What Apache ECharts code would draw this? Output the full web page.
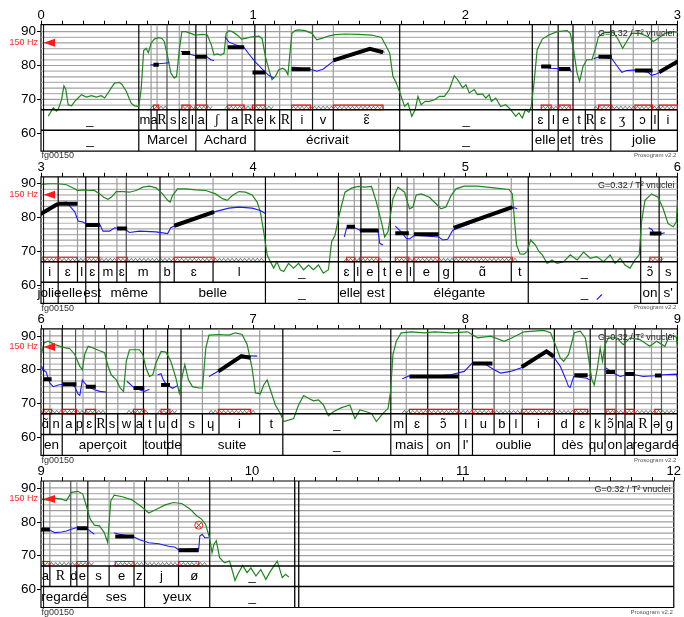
<!DOCTYPE html>
<html><head><meta charset="utf-8">
<script src="https://cdn.jsdelivr.net/npm/echarts@6/dist/echarts.min.js"></script>
<style>html,body{margin:0;padding:0;background:#fff}#c{width:684px;height:617px}</style>
</head><body><div id="c"></div>
<script>
// ---------------- DATA ----------------
const stripSeconds = 3;
const stripStarts = [0, 3, 6, 9];
const yTickValues = [60, 70, 80, 90];
const gridSemitones = [90, 88.33, 86.67, 85, 83.33, 81.67, 80, 78.33, 76.67, 75, 73.33, 71.67, 70, 68.33];
const refPitch150Hz = 86.74;
const yRange = [54.7, 92.05];
const tier1Top = 66.97, tier2Top = 60.9;

const phones = [
[0,0.461,'_'],[0.461,0.519,'m'],[0.519,0.547,'a'],[0.547,0.594,'R'],[0.594,0.652,'s'],[0.652,0.698,'ɛ'],[0.698,0.730,'l'],
[0.730,0.780,'a'],[0.780,0.878,'ʃ'],[0.878,0.948,'a'],[0.948,1.008,'R'],[1.008,1.058,'e'],[1.058,1.125,'k'],[1.125,1.180,'R'],
[1.180,1.280,'i'],[1.280,1.378,'v'],[1.378,1.691,'ɛ̃'],[1.691,2.316,'_'],[2.316,2.394,'ɛ'],[2.394,2.438,'l'],[2.438,2.508,'e'],
[2.508,2.566,'t'],[2.566,2.612,'R'],[2.612,2.686,'ɛ'],[2.686,2.792,'ʒ'],[2.792,2.878,'ɔ'],[2.878,2.910,'l'],[2.910,3.081,'i'],
[3.081,3.172,'ɛ'],[3.172,3.211,'l'],[3.211,3.272,'ɛ'],[3.272,3.358,'m'],[3.358,3.402,'ɛ'],[3.402,3.561,'m'],[3.561,3.628,'b'],
[3.628,3.811,'ɛ'],[3.811,4.058,'l'],[4.058,4.402,'_'],[4.402,4.477,'ɛ'],[4.477,4.508,'l'],[4.508,4.592,'e'],[4.592,4.647,'t'],
[4.647,4.726,'e'],[4.726,4.758,'l'],[4.758,4.875,'e'],[4.875,4.945,'g'],[4.945,5.217,'ɑ̃'],[5.217,5.297,'t'],[5.297,5.827,'_'],
[5.827,5.914,'ɔ̃'],[5.914,6.000,'s'],[6.000,6.042,'ɑ̃'],[6.042,6.100,'n'],[6.100,6.163,'a'],[6.163,6.198,'p'],[6.198,6.256,'ɛ'],
[6.256,6.308,'R'],[6.308,6.362,'s'],[6.362,6.444,'w'],[6.444,6.483,'a'],[6.483,6.542,'t'],[6.542,6.597,'u'],[6.597,6.660,'d'],
[6.660,6.761,'s'],[6.761,6.839,'ɥ'],[6.839,7.031,'i'],[7.031,7.140,'t'],[7.140,7.649,'_'],[7.649,7.722,'m'],[7.722,7.823,'ɛ'],
[7.823,7.969,'ɔ̃'],[7.969,8.034,'l'],[8.034,8.136,'u'],[8.136,8.209,'b'],[8.209,8.269,'l'],[8.269,8.420,'i'],[8.420,8.511,'d'],
[8.511,8.589,'ɛ'],[8.589,8.659,'k'],[8.659,8.711,'ɔ̃'],[8.711,8.753,'n'],[8.753,8.797,'a'],[8.797,8.878,'R'],[8.878,8.925,'ə'],
[8.925,9.000,'g'],[9.000,9.042,'a'],[9.042,9.141,'R'],[9.141,9.170,'d'],[9.170,9.222,'e'],[9.222,9.323,'s'],[9.323,9.441,'e'],
[9.441,9.491,'z'],[9.491,9.652,'j'],[9.652,9.800,'ø'],[9.800,10.203,'_']
];

const words = [
[0,0.461,'_'],[0.461,0.730,'Marcel'],[0.730,1.008,'Achard'],[1.008,1.691,'écrivait'],[1.691,2.316,'_'],[2.316,2.438,'elle'],
[2.438,2.508,'et'],[2.508,2.686,'très'],[2.686,3.081,'jolie'],[3.081,3.211,'elle'],[3.211,3.272,'est'],[3.272,3.561,'même'],
[3.561,4.058,'belle'],[4.058,4.402,'_'],[4.402,4.508,'elle'],[4.508,4.647,'est'],[4.647,5.297,'élégante'],[5.297,5.827,'_'],
[5.827,5.914,'on'],[5.914,6.000,"s'"],[6.000,6.100,'en'],[6.100,6.483,'aperçoit'],[6.483,6.597,'tout'],[6.597,6.660,'de'],
[6.660,7.140,'suite'],[7.140,7.649,'_'],[7.649,7.823,'mais'],[7.823,7.969,'on'],[7.969,8.034,"l'"],[8.034,8.420,'oublie'],
[8.420,8.589,'dès'],[8.589,8.659,"qu'"],[8.659,8.753,'on'],[8.753,8.797,'a'],[8.797,9.222,'regardé'],[9.222,9.491,'ses'],
[9.491,9.800,'yeux'],[9.800,10.203,'_']
];

const syllableStarts = [0.594,0.780,1.058,1.280,2.878,3.402,4.726,4.875,6.163,6.308,8.136,8.711,8.925,9.141];
const signalEndMarks = [10.203, 10.222];

const nuclei = [
[[0.530,80.2],[0.555,80.2]],[[0.664,83.7],[0.703,83.7]],[[0.727,82.6],[0.783,82.6]],[[0.880,85.4],[0.958,85.4]],
[[0.997,77.9],[1.058,77.9]],[[1.181,78.9],[1.270,78.9]],[[1.378,81.5],[1.550,84.9],[1.6125,83.9]],
[[2.358,79.7],[2.405,79.7]],[[2.441,79.0],[2.495,79.0]],[[2.628,82.6],[2.691,82.6]],[[2.800,78.5],[2.883,78.5]],
[[2.914,78.0],[3.081,84.1]],[[3.081,84.1],[3.172,84.1]],[[3.211,77.8],[3.277,77.8]],[[3.358,76.8],[3.406,76.8]],
[[3.628,77.6],[3.816,81.7]],[[4.441,77.3],[4.480,77.3]],[[4.503,76.2],[4.592,76.2]],[[4.670,75.4],[4.734,75.4]],
[[4.758,75.1],[4.875,75.1]],[[4.945,77.0],[5.222,83.1]],[[5.870,75.3],[5.925,75.3]],
[[6.011,77.2],[6.050,77.2]],[[6.102,75.7],[6.167,75.7]],[[6.211,75.0],[6.258,75.0]],[[6.436,74.6],[6.487,74.6]],
[[6.566,75.5],[6.608,75.5]],[[6.836,79.5],[6.945,84.0],[6.988,83.5]],[[7.737,78.0],[7.823,78.0]],[[7.823,78.0],[7.967,78.0]],
[[8.034,81.8],[8.128,81.8]],[[8.266,80.8],[8.383,85.4],[8.417,83.9]],[[8.514,78.4],[8.577,78.4]],[[8.664,79.3],[8.706,79.3]],
[[8.753,78.7],[8.797,78.7]],[[8.894,78.3],[8.925,78.3]],[[9.0,77.7],[9.042,77.7]],[[9.170,78.1],[9.222,78.1]],
[[9.352,75.7],[9.441,75.7]],[[9.652,71.6],[9.748,71.6]]
];

const pitchSegments = [
[[0.516,80.2],[0.541,80.2],[0.555,80.5],[0.605,80.8]],
[[0.659,84.2],[0.711,83.2],[0.730,82.8],[0.784,82.5],[0.800,81.7],[0.816,81.5]],
[[0.867,88.5],[0.886,86.9],[0.917,86.1],[0.956,85.4],[0.980,83.4],[1.011,81.0],[1.042,79.0],[1.073,77.1],[1.097,76.3]],
[[1.181,79.5],[1.195,79.5],[1.284,78.7],[1.300,78.3],[1.331,79.0],[1.378,81.3],[1.45,83.2],[1.55,84.9],[1.62,83.9]],
[[2.358,79.7],[2.405,79.2],[2.495,78.8],[2.500,78.0]],
[[2.605,82.0],[2.628,82.5],[2.691,82.0],[2.714,80.0],[2.738,78.0],[2.761,78.5],[2.800,78.7],[2.862,78.0],[2.878,77.1],
 [2.901,77.5],[2.917,78.0],[3.0,80.8],[3.081,84.3],[3.120,84.6],[3.159,81.7],[3.175,79.0],[3.198,78.7],[3.211,78.2],
 [3.277,78.0],[3.292,76.0],[3.323,76.0],[3.347,77.0],[3.370,76.8],[3.394,76.6],[3.417,75.6],[3.464,76.0],[3.542,75.8],
 [3.597,75.3],[3.612,77.0],[3.628,77.5],[3.816,81.7],[3.886,82.8],[3.933,83.1],[3.995,82.8],[4.034,82.1],[4.058,81.2]],
[[4.430,74.3],[4.441,77.0],[4.480,77.0],[4.503,76.3],[4.589,76.0],[4.597,72.4],[4.612,71.9]],
[[4.670,77.5],[4.698,75.8],[4.722,73.9],[4.737,73.7],[4.761,74.8],[4.875,74.3],[4.894,73.4],[4.917,73.6],[4.941,76.3],
 [5.222,83.1],[5.245,82.6]],
[[5.620,55.8],[5.644,57.3]],
[[5.865,77.0],[5.880,76.5],[5.890,75.3],[5.925,75.3],[5.940,75.5]],
[[6.005,81.0],[6.008,79.9],[6.023,79.5],[6.031,78.0],[6.042,76.0],[6.058,75.0],[6.081,75.5],[6.105,75.7],[6.136,75.7],
 [6.159,75.0],[6.175,72.8],[6.183,72.4],[6.195,77.0],[6.206,76.0],[6.222,75.0],[6.253,74.1],[6.277,73.6],[6.308,73.4]],
[[6.405,76.6],[6.433,75.0],[6.464,74.1],[6.488,73.6],[6.511,74.2]],
[[6.550,78.5],[6.566,78.8],[6.573,77.5],[6.589,75.7],[6.620,74.5],[6.644,75.3]],
[[6.792,78.0],[6.839,79.7],[6.902,82.5],[6.948,84.2],[7.019,84.0]],
[[7.703,77.3],[7.737,78.2],[7.792,78.0],[7.870,78.2],[7.933,78.5],[7.995,79.5],[8.034,82.0],[8.089,81.8],[8.136,80.0],
 [8.167,79.0],[8.214,79.5],[8.261,80.5],[8.308,82.2],[8.378,85.5],[8.417,83.7],[8.448,81.0],[8.472,77.5],[8.487,75.0],
 [8.495,74.8],[8.511,78.0],[8.573,77.5],[8.586,77.0]],
[[8.664,80.5],[8.698,79.0],[8.730,78.0],[8.761,78.5],[8.800,78.5],[8.839,78.0],[8.894,78.2],[8.933,78.5],[8.995,78.7],
 [9.0,77.7],[9.042,77.5],[9.066,76.8],[9.097,77.0],[9.120,77.3],[9.144,77.8],[9.170,78.3],[9.222,77.8],[9.253,76.3]],
[[9.347,76.8],[9.362,76.5],[9.441,75.5],[9.464,74.8],[9.511,73.8],[9.558,73.5],[9.605,72.8],[9.636,72.5],[9.652,71.8],
 [9.748,72.1],[9.753,75.8],[9.764,76.3],[9.777,75.3],[9.795,75.3]]
];

const uncertainMarks = [[9.748, 79.0]];

const intensity = [
[0.034,65.0],[0.058,67.5],[0.073,66.5],[0.081,67.0],[0.097,69.9],[0.108,74.0],[0.117,72.9],[0.128,68.4],[0.144,68.1],[0.159,69.4],
[0.175,70.4],[0.191,71.4],[0.214,70.7],[0.238,71.1],[0.261,70.7],[0.284,71.1],[0.300,70.4],[0.316,71.9],[0.331,73.4],[0.347,74.8],
[0.370,75.0],[0.383,74.3],[0.402,72.4],[0.425,68.9],[0.441,68.1],[0.461,67.9],[0.472,72.9],[0.484,84.4],[0.495,85.1],[0.506,83.8],
[0.519,86.6],[0.534,87.8],[0.555,88.2],[0.570,88.0],[0.581,87.1],[0.597,82.6],[0.612,77.8],[0.628,76.3],[0.639,76.8],[0.652,84.6],
[0.664,90.0],[0.683,90.0],[0.706,89.5],[0.727,89.0],[0.761,89.2],[0.784,89.0],[0.803,86.1],[0.816,83.1],[0.831,83.4],[0.847,83.1],
[0.863,83.6],[0.873,89.5],[0.886,90.3],[0.902,90.0],[0.925,89.0],[0.945,87.8],[0.964,88.0],[0.995,88.5],[1.027,88.7],[1.042,88.0],
[1.058,82.6],[1.077,78.2],[1.089,75.8],[1.105,76.8],[1.120,78.7],[1.139,79.2],[1.152,78.7],[1.164,77.3],[1.175,84.6],[1.183,89.5],
[1.198,90.3],[1.214,90.5],[1.245,90.3],[1.277,89.5],[1.300,87.6],[1.323,88.0],[1.355,88.7],[1.386,89.1],[1.433,89.3],[1.495,89.2],
[1.558,89.0],[1.605,88.3],[1.628,85.6],[1.644,83.6],[1.659,76.8],[1.675,74.8],[1.698,70.9],[1.714,67.9],[1.730,68.9],[1.748,65.0],
[1.764,67.0],[1.777,70.9],[1.792,68.4],[1.811,69.4],[1.831,69.4],[1.855,69.9],[1.878,70.9],[1.902,70.9],[1.925,72.9],[1.948,77.0],
[1.964,75.8],[1.988,73.4],[2.003,74.3],[2.019,71.9],[2.042,72.9],[2.058,71.4],[2.081,71.6],[2.097,70.4],[2.113,71.4],[2.123,69.4],
[2.144,70.4],[2.167,67.9],[2.191,68.4],[2.214,67.0],[2.238,65.0],[2.253,66.0],[2.269,64.5],[2.284,67.0],[2.300,66.2],[2.311,67.9],
[2.324,74.8],[2.339,84.6],[2.363,87.8],[2.394,89.0],[2.433,90.0],[2.480,90.3],[2.495,89.5],[2.511,84.6],[2.527,77.8],[2.539,75.3],
[2.555,79.7],[2.573,81.7],[2.597,81.7],[2.612,84.6],[2.628,88.5],[2.652,89.7],[2.698,89.7],[2.722,87.6],[2.742,85.1],[2.761,87.1],
[2.784,89.5],[2.823,89.5],[2.862,88.5],[2.886,87.1],[2.909,88.0],[2.941,89.5],[2.980,90.0],[3.0,89.8],
[3.042,90.0],[3.081,90.0],[3.120,89.7],[3.159,88.5],[3.172,88.0],[3.195,88.2],[3.227,88.0],[3.250,88.1],[3.277,87.0],[3.295,86.0],
[3.316,85.4],[3.331,86.0],[3.355,87.7],[3.386,87.7],[3.417,87.5],[3.448,88.0],[3.480,89.0],[3.511,89.3],[3.542,88.8],[3.573,87.0],
[3.597,85.1],[3.609,84.6],[3.620,86.5],[3.644,88.5],[3.683,88.5],[3.730,88.2],[3.777,88.0],[3.823,87.0],[3.855,85.6],[3.878,85.1],
[3.902,86.5],[3.933,87.7],[3.964,87.5],[3.995,86.7],[4.019,84.6],[4.034,81.7],[4.050,75.8],[4.066,69.0],[4.081,67.0],[4.097,65.1],
[4.112,67.0],[4.128,64.6],[4.144,64.1],[4.167,66.5],[4.191,65.1],[4.214,66.5],[4.238,64.6],[4.261,66.0],[4.284,64.6],[4.308,66.0],
[4.331,63.6],[4.355,64.6],[4.370,72.9],[4.386,74.8],[4.402,79.7],[4.417,83.6],[4.433,87.5],[4.464,88.7],[4.495,89.2],[4.527,89.0],
[4.558,89.2],[4.581,84.6],[4.605,78.7],[4.620,74.3],[4.636,75.8],[4.659,85.6],[4.683,89.0],[4.714,87.5],[4.737,82.6],[4.753,83.1],
[4.769,86.7],[4.792,87.0],[4.831,86.0],[4.862,84.1],[4.886,82.6],[4.909,83.1],[4.933,86.5],[4.956,88.5],[4.995,89.3],[5.058,89.3],
[5.136,88.8],[5.206,88.3],[5.222,87.0],[5.230,80.7],[5.242,71.9],[5.258,69.3],[5.277,69.2],[5.292,70.0],[5.308,73.4],[5.331,71.9],
[5.347,70.0],[5.363,69.0],[5.386,66.5],[5.409,67.5],[5.433,66.5],[5.464,67.0],[5.495,69.0],[5.527,67.5],[5.558,69.8],[5.589,68.0],
[5.620,68.5],[5.652,67.0],[5.683,69.0],[5.706,66.5],[5.730,68.0],[5.753,66.0],[5.777,65.1],[5.800,67.5],[5.820,69.0],[5.831,78.7],
[5.847,85.1],[5.878,87.0],[5.909,86.0],[5.933,82.6],[5.956,78.2],[5.980,77.3],[5.995,78.7],
[6.0,84.0],[6.014,87.9],[6.034,88.4],[6.066,87.4],[6.105,86.6],[6.136,86.2],[6.159,84.5],[6.183,81.0],[6.195,80.0],[6.206,84.5],
[6.222,86.9],[6.245,86.4],[6.277,85.6],[6.300,85.0],[6.316,81.0],[6.331,78.5],[6.355,77.0],[6.373,74.6],[6.389,73.6],[6.402,82.5],
[6.417,85.9],[6.464,85.9],[6.480,84.5],[6.495,80.5],[6.511,78.0],[6.527,78.5],[6.542,82.0],[6.566,85.4],[6.589,85.2],[6.612,82.5],
[6.636,77.5],[6.652,73.1],[6.667,78.5],[6.678,81.5],[6.695,77.0],[6.714,75.0],[6.745,74.6],[6.761,74.6],[6.777,86.4],[6.792,90.2],
[6.839,90.4],[6.886,90.2],[6.917,90.9],[6.948,90.4],[6.972,87.4],[6.995,80.5],[7.011,73.1],[7.034,72.9],[7.050,75.5],[7.066,77.0],
[7.081,74.1],[7.105,69.6],[7.128,67.1],[7.144,64.7],[7.167,65.1],[7.191,65.6],[7.214,69.6],[7.238,72.4],[7.261,71.6],[7.284,70.8],
[7.308,71.1],[7.331,69.6],[7.355,66.4],[7.378,67.6],[7.417,68.8],[7.456,69.6],[7.480,65.6],[7.503,68.1],[7.534,67.6],[7.558,67.1],
[7.581,64.7],[7.612,67.1],[7.636,68.6],[7.648,73.6],[7.659,84.5],[7.675,88.4],[7.698,90.9],[7.745,91.2],[7.808,90.9],[7.855,91.2],
[7.933,90.9],[8.011,91.2],[8.058,89.4],[8.120,89.9],[8.183,88.4],[8.214,89.2],[8.277,91.2],[8.370,91.6],[8.402,90.9],[8.425,87.4],
[8.448,83.5],[8.464,82.5],[8.487,84.5],[8.514,90.9],[8.542,91.4],[8.566,89.4],[8.581,83.5],[8.597,77.0],[8.608,75.5],[8.623,80.5],
[8.636,86.4],[8.647,82.5],[8.659,87.4],[8.675,89.4],[8.714,89.4],[8.745,87.4],[8.777,89.4],[8.823,88.9],[8.870,86.9],[8.902,88.4],
[8.941,86.9],[8.964,90.4],[8.995,89.6],
[9.0,86.7],[9.034,86.4],[9.066,87.0],[9.097,86.7],[9.120,86.2],[9.144,88.7],[9.175,89.0],[9.198,88.2],[9.217,84.3],[9.233,80.8],
[9.253,79.0],[9.277,78.8],[9.300,76.8],[9.316,73.9],[9.331,86.2],[9.347,87.9],[9.386,87.4],[9.433,86.4],[9.480,84.3],[9.511,82.6],
[9.550,83.8],[9.589,85.0],[9.628,85.7],[9.667,85.4],[9.706,83.8],[9.738,81.8],[9.761,80.8],[9.780,79.3],[9.792,76.8],[9.800,74.9],
[9.811,70.9],[9.820,73.4],[9.831,74.4],[9.847,69.4],[9.870,67.9],[9.894,68.4],[9.920,62.7],[9.933,64.5],[9.956,67.1],[9.977,65.0],
[9.995,66.4],[10.019,64.0],[10.042,65.9],[10.066,63.0],[10.089,65.5],[10.120,68.4],[10.144,63.5],[10.159,64.5],[10.175,63.7]
];

// ---------------- CHART ----------------
const FONT = "'Liberation Sans', Arial, 'DejaVu Sans', sans-serif";
const SERIF = "'Liberation Serif', 'DejaVu Serif', serif";
const chart = echarts.init(document.getElementById('c'), null, {renderer: 'canvas', width: 684, height: 617});
const yMin = yRange[0], yMax = yRange[1];
const grids = [], xAxes = [], yAxes = [], series = [];
const near = (a, b) => Math.abs(a - b) < 1e-6;

function boundaryColor(t) {
  if (words.some(w => near(w[0], t))) return '#000';
  if (syllableStarts.some(s => near(s, t))) return '#505050';
  return '#9c9c9c';
}
function clipSpan(s, e, t0, t1) {
  const cs = Math.max(s, t0), ce = Math.min(e, t1);
  return ce > cs ? [cs, ce] : null;
}

stripStarts.forEach((t0, k) => {
  const t1 = t0 + stripSeconds;
  grids.push({left: 41, width: 640, top: 24.7 + k * 152.1, height: 126.5, show: true,
    borderColor: '#000', borderWidth: 1.2, backgroundColor: 'transparent'});
  xAxes.push({type: 'value', gridIndex: k, position: 'top', min: t0, max: t1, interval: 0.1,
    axisLine: {show: false},
    axisTick: {show: true, length: 4, lineStyle: {color: '#000', width: 1}},
    axisLabel: {show: true, margin: 3, fontSize: 13, color: '#000', fontFamily: FONT,
      showMinLabel: true, showMaxLabel: true,
      formatter: v => near(v, Math.round(v)) ? String(Math.round(v)) : ''},
    splitLine: {show: false}});
  yAxes.push({type: 'value', gridIndex: k, min: yMin, max: yMax,
    axisLine: {show: false},
    axisTick: {show: true, length: 4, customValues: yTickValues, lineStyle: {color: '#000'}},
    axisLabel: {show: true, customValues: yTickValues, margin: 5, fontSize: 13.5, color: '#000', fontFamily: FONT},
    splitLine: {show: false}});

  const base = {type: 'custom', xAxisIndex: k, yAxisIndex: k, silent: true, animation: false};

  // horizontal grid lines
  series.push(Object.assign({}, base, {z: 1, clip: true, data: [[t0]],
    renderItem: (p, api) => {
      const xL = api.coord([t0, yMax])[0], xR = api.coord([t1, yMax])[0];
      return {type: 'group', children: gridSemitones.map((v, i) => {
        const y = api.coord([t0, v])[1];
        return {type: 'line', shape: {x1: xL, y1: y, x2: xR, y2: y},
          style: {stroke: i % 2 ? '#b4b4b4' : '#a0a0a0', lineWidth: 1.2}};
      })};
    }}));

  // phone tier
  const phIdx = phones.map((p, i) => i).filter(i => clipSpan(phones[i][0], phones[i][1], t0, t1));
  series.push(Object.assign({}, base, {z: 3, clip: false, data: phIdx.map(i => [i]),
    renderItem: (p, api) => {
      const ph = phones[api.value(0)];
      const sp = clipSpan(ph[0], ph[1], t0, t1);
      const xs = api.coord([sp[0], yMax])[0], xe = api.coord([sp[1], yMax])[0];
      const yTop = api.coord([t0, yMax])[1], y1 = api.coord([t0, tier1Top])[1], y2 = api.coord([t0, tier2Top])[1];
      const ch = [];
      if (ph[0] > t0 + 1e-6) {
        ch.push({type: 'line', shape: {x1: xs, y1: yTop, x2: xs, y2: y1}, style: {stroke: boundaryColor(ph[0]), lineWidth: 1.2}});
        ch.push({type: 'line', shape: {x1: xs, y1: y1, x2: xs, y2: y2}, style: {stroke: '#000', lineWidth: 1.2}});
      }
      const serif = ph[2] === 'R' || ph[2] === 'ʒ' || ph[2] === 'ʃ';
      ch.push({type: 'text', style: {text: ph[2], x: (xs + xe) / 2, y: (y1 + y2) / 2 + (serif ? 0.5 : 0), align: 'center',
        verticalAlign: 'middle', font: serif ? ('14px ' + SERIF) : ('13px ' + FONT), fill: '#000'}});
      return {type: 'group', children: ch};
    }}));

  // word tier
  const wIdx = words.map((w, i) => i).filter(i => clipSpan(words[i][0], words[i][1], t0, t1));
  series.push(Object.assign({}, base, {z: 3, clip: false, data: wIdx.map(i => [i]),
    renderItem: (p, api) => {
      const w = words[api.value(0)];
      const sp = clipSpan(w[0], w[1], t0, t1);
      const xs = api.coord([sp[0], yMax])[0], xe = api.coord([sp[1], yMax])[0];
      const y2 = api.coord([t0, tier2Top])[1], yB = api.coord([t0, yMin])[1];
      const ch = [];
      if (w[0] > t0 + 1e-6) ch.push({type: 'line', shape: {x1: xs, y1: y2, x2: xs, y2: yB}, style: {stroke: '#000', lineWidth: 1.2}});
      ch.push({type: 'text', style: {text: w[2], x: (xs + xe) / 2, y: (y2 + yB) / 2, align: 'center',
        verticalAlign: 'middle', font: '13.5px ' + FONT, fill: '#000'}});
      return {type: 'group', children: ch};
    }}));

  // voicing zigzag (under each pitch segment)
  const segIdx = pitchSegments.map((s, i) => i).filter(i => {
    const s = pitchSegments[i];
    return s.some(pt => pt[1] > tier1Top) && clipSpan(s[0][0], s[s.length - 1][0], t0, t1);
  });
  series.push(Object.assign({}, base, {z: 4, clip: true, data: segIdx.map(i => [i]),
    renderItem: (p, api) => {
      const s = pitchSegments[api.value(0)];
      const sp = clipSpan(s[0][0], s[s.length - 1][0], t0, t1);
      const xs = api.coord([sp[0], yMax])[0], xe = api.coord([sp[1], yMax])[0];
      const ya = api.coord([t0, 68.0])[1], yb = api.coord([t0, 67.2])[1];
      const pts = []; let i = 0;
      for (let x = xs; x <= xe; x += 2.1, i++) pts.push([x, i % 2 ? ya : yb]);
      return {type: 'polyline', shape: {points: pts}, style: {stroke: '#222', lineWidth: 0.6, fill: null}};
    }}));

  // nucleus boxes
  const nIdx = nuclei.map((n, i) => i).filter(i => clipSpan(nuclei[i][0][0], nuclei[i][nuclei[i].length - 1][0], t0, t1));
  series.push(Object.assign({}, base, {z: 5, clip: true, data: nIdx.map(i => [i]),
    renderItem: (p, api) => {
      const n = nuclei[api.value(0)];
      const sp = clipSpan(n[0][0], n[n.length - 1][0], t0, t1);
      const xs = api.coord([sp[0], yMax])[0], xe = api.coord([sp[1], yMax])[0];
      const yt = api.coord([t0, 68.3])[1], yb = api.coord([t0, tier1Top])[1];
      return {type: 'rect', shape: {x: xs, y: yt, width: xe - xs, height: yb - yt},
        style: {stroke: '#ee1111', fill: null, lineWidth: 1.1}};
    }}));

  // intensity (green)
  let a = intensity.findIndex(pt => pt[0] >= t0); a = Math.max(0, a - 1);
  let b = intensity.length - 1; while (b > 0 && intensity[b][0] > t1) b--; b = Math.min(intensity.length - 1, b + 1);
  const intSlice = intensity.slice(a, b + 1);
  series.push(Object.assign({}, base, {z: 6, clip: true, data: [[t0]],
    renderItem: (p, api) => ({type: 'polyline', shape: {points: intSlice.map(pt => api.coord(pt))},
      style: {stroke: '#1f861f', lineWidth: 1.2, fill: null}})}));

  // pitch (blue)
  const pIdx = pitchSegments.map((s, i) => i).filter(i => clipSpan(pitchSegments[i][0][0], pitchSegments[i][pitchSegments[i].length - 1][0], t0, t1));
  series.push(Object.assign({}, base, {z: 7, clip: true, data: pIdx.map(i => [i]),
    renderItem: (p, api) => ({type: 'polyline', shape: {points: pitchSegments[api.value(0)].map(pt => api.coord(pt))},
      style: {stroke: '#1a1aff', lineWidth: 1.1, fill: null}})}));

  // stylized nuclei (black)
  series.push(Object.assign({}, base, {z: 8, clip: true, data: nIdx.map(i => [i]),
    renderItem: (p, api) => ({type: 'polyline', shape: {points: nuclei[api.value(0)].map(pt => api.coord(pt))},
      style: {stroke: '#000', lineWidth: 4, fill: null, lineCap: 'butt'}})}));

  // uncertain marks
  const um = uncertainMarks.filter(m => m[0] >= t0 && m[0] <= t1);
  if (um.length) series.push(Object.assign({}, base, {z: 9, clip: true, data: um,
    renderItem: (p, api) => {
      const c = api.coord([api.value(0), api.value(1)]); const r = 4, d = r * 0.7;
      return {type: 'group', children: [
        {type: 'circle', shape: {cx: c[0], cy: c[1], r: r}, style: {stroke: '#ee2222', fill: null, lineWidth: 1}},
        {type: 'line', shape: {x1: c[0] - d, y1: c[1] - d, x2: c[0] + d, y2: c[1] + d}, style: {stroke: '#ee2222', lineWidth: 1}},
        {type: 'line', shape: {x1: c[0] - d, y1: c[1] + d, x2: c[0] + d, y2: c[1] - d}, style: {stroke: '#ee2222', lineWidth: 1}}]};
    }}));

  // frame decorations and annotations
  const ends = signalEndMarks.filter(t => t > t0 && t < t1);
  series.push(Object.assign({}, base, {z: 10, clip: false, data: [[t0]],
    renderItem: (p, api) => {
      const [xL, yT] = api.coord([t0, yMax]);
      const [xR, yB] = api.coord([t1, yMin]);
      const y1 = api.coord([t0, tier1Top])[1], y2 = api.coord([t0, tier2Top])[1];
      const yRef = api.coord([t0, refPitch150Hz])[1];
      const ch = [
        {type: 'line', shape: {x1: xL, y1: y1, x2: xR, y2: y1}, style: {stroke: '#000', lineWidth: 1.5}},
        {type: 'line', shape: {x1: xL, y1: y2, x2: xR, y2: y2}, style: {stroke: '#000', lineWidth: 1.5}},
        {type: 'line', shape: {x1: xL + 2.6, y1: yT, x2: xL + 2.6, y2: yB}, style: {stroke: '#000', lineWidth: 1}},
        {type: 'text', style: {text: '150 Hz', x: xL - 3, y: yRef, align: 'right', verticalAlign: 'middle', font: '9px ' + FONT, fill: '#ff2a2a'}},
        {type: 'polygon', shape: {points: [[xL + 2.5, yRef], [xL + 14, yRef - 4], [xL + 14, yRef + 4]]}, style: {fill: '#ff1a1a'}},
        {type: 'text', style: {text: 'G=0.32 / T² vnuclei', x: xR - 3, y: yT + 8.5, align: 'right', verticalAlign: 'middle', font: '9px ' + FONT, fill: '#222'}},
        {type: 'text', style: {text: 'fg00150', x: xL + 0.5, y: yB + 4.8, align: 'left', verticalAlign: 'middle', font: '9px ' + FONT, fill: '#333'}},
        {type: 'text', style: {text: 'Prosogram v2.2', x: xR - 1, y: yB + 4.5, align: 'right', verticalAlign: 'middle', font: '6px ' + FONT, fill: '#555'}}
      ];
      ends.forEach(t => { const x = api.coord([t, yMax])[0];
        ch.push({type: 'line', shape: {x1: x, y1: yT, x2: x, y2: yB}, style: {stroke: '#000', lineWidth: 1.3}}); });
      return {type: 'group', children: ch};
    }}));
});

chart.setOption({animation: false, backgroundColor: '#fff', grid: grids, xAxis: xAxes, yAxis: yAxes, series: series});
</script></body></html>
